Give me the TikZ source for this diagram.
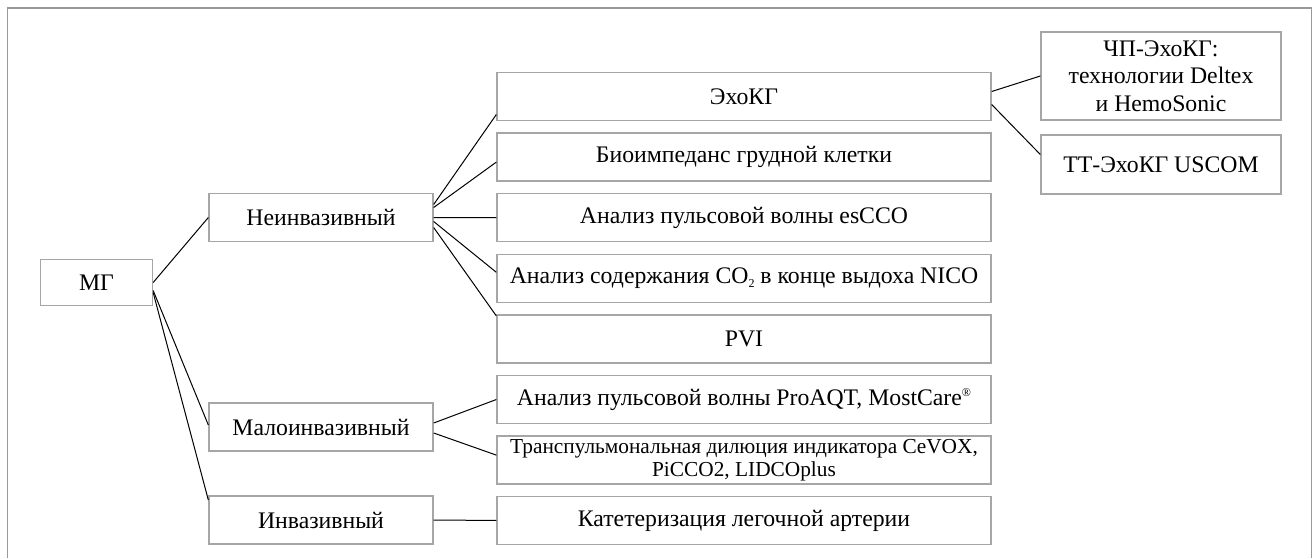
\documentclass[tikz,border=0pt]{standalone}
\usepackage{fontspec}
\setmainfont{Liberation Serif}
\newfontfamily\tnr{Liberation Serif}[Renderer=OpenType]
\usetikzlibrary{calc}

\begin{document}
\begin{tikzpicture}[x=0.75pt,y=-0.75pt,node distance=45.45pt,
    font=\tnr\fontsize{17.8}{20.5}\selectfont,
    every node/.style={inner sep=0pt,align=center},
    box/.style={draw=gray!70,line width=1pt,minimum width=370.5pt,minimum height=36pt},
    mid/.style={box,minimum width=168pt},
    root/.style={box,minimum width=84pt,minimum height=34.5pt},
    side/.style={box,minimum width=180pt},
    every edge/.style={draw,black,line width=0.75pt}]
        \useasboundingbox (0,0) rectangle (1315,558);
        \draw[gray!80,line width=1pt] (7.5,558) |- (1311.5,8) -- (1311.5,558);
        % left part
        \node[root] (mg) at (96.5,282.5) {МГ};
        \node[mid] (noninv) at (321,217.5) {Неинвазивный};
        \node[mid] (minv) at (321,427) {Малоинвазивный};
        \node[mid] (inv) at (321,520) {Инвазивный};
        % methods
        \node[box] (echo) at (744,96.5) {ЭхоКГ};
        \node[box] (bio) [below of=echo] {Биоимпеданс грудной клетки};
        \node[box] (escco) [below of=bio] {Анализ пульсовой волны esCCO};
        \node[box] (nico) [below of=escco] {Анализ содержания CO\raisebox{-0.35ex}{\fontsize{9}{9}\selectfont 2} в конце выдоха NICO};
        \node[box] (pvi) [below of=nico] {PVI};
        \node[box] (proaqt) [below of=pvi] {Анализ пульсовой волны ProAQT, MostCare\raisebox{0.9ex}{\fontsize{9}{9}\selectfont ®}};
        \node[box,font=\tnr\fontsize{16}{17.5}\selectfont] (transp) [below of=proaqt] {Транспульмональная дилюция индикатора CeVOX,\\PiCCO2, LIDCOplus};
        \node[box] (pac) [below of=transp] {Катетеризация легочной артерии};
        % echo types
        \node[side,minimum height=66pt] (tee) at (1161,76) {ЧП-ЭхоКГ:\\технологии Deltex\\и HemoSonic};
        \node[side,minimum height=44.25pt] (tte) at (1161,164.5) {ТТ-ЭхоКГ USCOM};
        \path (mg.east) edge (noninv.west);
        \path ($(mg.east)+(0,8)$) edge ($(minv.west)+(0,-2)$);
        \path ($(mg.east)+(0,10)$) edge ($(inv.west)+(0,-20)$);
        \path ($(noninv.east)+(0,-13)$) edge ($(echo.west)+(0,18)$);
        \path ($(noninv.east)+(0,-10)$) edge ($(bio.west)+(0,5)$);
        \path (noninv) edge (escco);
        \path ($(noninv.east)+(0,4)$) edge ($(nico.west)+(0,-6)$);
        \path ($(noninv.east)+(0,10)$) edge ($(pvi.west)+(0,-23)$);
        \path ($(minv.east)+(0,-4)$) edge (proaqt.west);
        \path ($(minv.east)+(0,6)$) edge ($(transp.west)+(0,-5)$);
        \path (inv) edge (pac);
        \path ($(echo.east)+(0,-5)$) edge (tee.west);
        \path ($(echo.east)+(0,8)$) edge ($(tte.west)+(0,-10)$);
\end{tikzpicture}
\end{document}
